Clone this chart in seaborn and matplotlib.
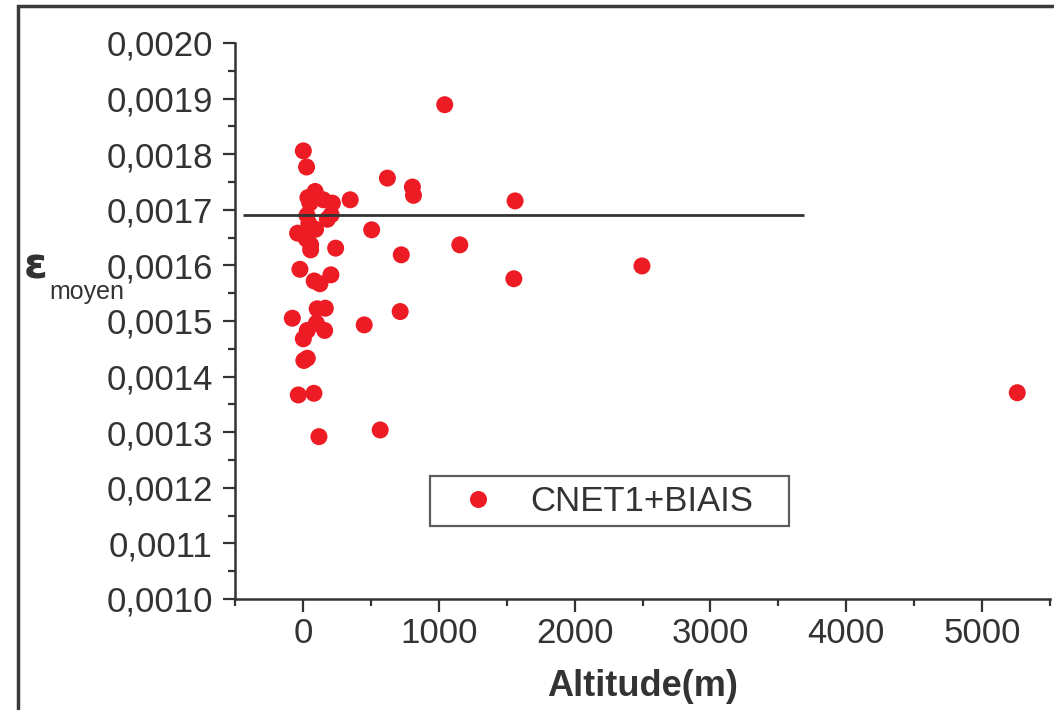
import matplotlib
matplotlib.use("Agg")
import matplotlib.pyplot as plt
import seaborn as sns
import pandas as pd
from matplotlib.patches import Rectangle
from matplotlib.ticker import MultipleLocator, FuncFormatter

# ---- data ----
altitude = [3, 27, 90, 37, 51, 150, 217, 348, 622, 806, 814, 1044, 1562,
            30, 208, 180, 44, 93, -39, 506, 24, 57, 57, 241, 724, 1155,
            -22, 83, 125, 206, 1553, 2496, 105, 165, -78, 716, 99, 32, 160,
            3, 451, 32, 7, -34, 81, 118, 569, 5259]
epsilon = [0.001806, 0.001777, 0.001733, 0.001722, 0.001712, 0.001718,
           0.001712, 0.001718, 0.001757, 0.001741, 0.001726, 0.001889,
           0.001716, 0.001690, 0.001691, 0.001683, 0.001675, 0.001665,
           0.001658, 0.001664, 0.001648, 0.001637, 0.001628, 0.001631,
           0.001619, 0.001637, 0.001593, 0.001572, 0.001567, 0.001583,
           0.001576, 0.001599, 0.001522, 0.001523, 0.001505, 0.001517,
           0.001496, 0.001483, 0.001483, 0.001468, 0.001493, 0.001433,
           0.001429, 0.001367, 0.001370, 0.001292, 0.001304, 0.001371]
series_name = "CNET1+BIAIS"
mean_value = 0.00169
mean_x_range = [-440, 3690]
x_label = "Altitude(m)"

df = pd.DataFrame({"Altitude": altitude, "eps": epsilon,
                   "serie": [series_name] * len(altitude)})

sns.set_style("ticks")
plt.rcParams["font.family"] = ["Liberation Sans", "DejaVu Sans"]

W, H = 1054, 710
fig = plt.figure(figsize=(W / 100, H / 100), dpi=100)
ax = fig.add_axes([235 / W, 1 - 599 / H, (1050 - 235) / W, (599 - 43) / H])

dark = "#333333"
red = "#ed1c24"

sns.scatterplot(data=df, x="Altitude", y="eps", hue="serie",
                palette=[red], s=150, linewidth=0, ax=ax, legend=True)

ax.hlines(mean_value, mean_x_range[0], mean_x_range[1], color=dark, lw=2.0)

ax.set_xlim(-500, 5500)
ax.set_ylim(0.0010, 0.0020)
ax.xaxis.set_major_locator(MultipleLocator(1000))
ax.xaxis.set_minor_locator(MultipleLocator(500))
ax.yaxis.set_major_locator(MultipleLocator(0.0001))
ax.yaxis.set_minor_locator(MultipleLocator(0.00005))
ax.yaxis.set_major_formatter(FuncFormatter(lambda v, p: f"{v:.4f}".replace(".", ",")))
ax.xaxis.set_major_formatter(FuncFormatter(lambda v, p: f"{v:.0f}"))

for side in ["top", "right"]:
    ax.spines[side].set_visible(False)
for side in ["left", "bottom"]:
    ax.spines[side].set_linewidth(1.8)
    ax.spines[side].set_color(dark)

ax.tick_params(which="major", length=9, width=1.6, color=dark,
               labelsize=25, labelcolor=dark, pad=7)
ax.tick_params(axis="x", which="major", pad=4)
ax.tick_params(which="minor", length=5, width=1.6, color=dark)

ax.set_xlabel(x_label, fontsize=26, fontweight="bold", color=dark, labelpad=14)
ax.set_ylabel("")

# y label: epsilon with subscript
fig.text(24 / W, 1 - 267 / H, "ε", fontsize=31, fontweight="bold",
         color=dark, va="center", ha="left", family=["DejaVu Sans"])
fig.text(49 / W, 1 - 292 / H, "moyen", fontsize=18, color=dark,
         va="center", ha="left")

# legend
handles, labels = ax.get_legend_handles_labels()
leg = ax.legend(handles, labels, loc="upper left",
                bbox_to_anchor=(430 / W, 1 - 526 / H, 359 / W, 50 / H),
                bbox_transform=fig.transFigure, mode="expand",
                fontsize=25, frameon=True, fancybox=False,
                borderpad=0.25, handletextpad=0.37, handlelength=2.26,
                borderaxespad=0, markerscale=1.0)
leg.get_frame().set_edgecolor(dark)
leg.get_frame().set_linewidth(1.6)
for t in leg.get_texts():
    t.set_color(dark)

# outer frame of the figure
fig.patches.append(Rectangle((17.5 / W, -0.1), 1.2, (1 - 6 / H) + 0.1,
                             transform=fig.transFigure, fill=False,
                             edgecolor="#3a3a3a", linewidth=2.5))

fig.savefig("out.png", dpi=100)
